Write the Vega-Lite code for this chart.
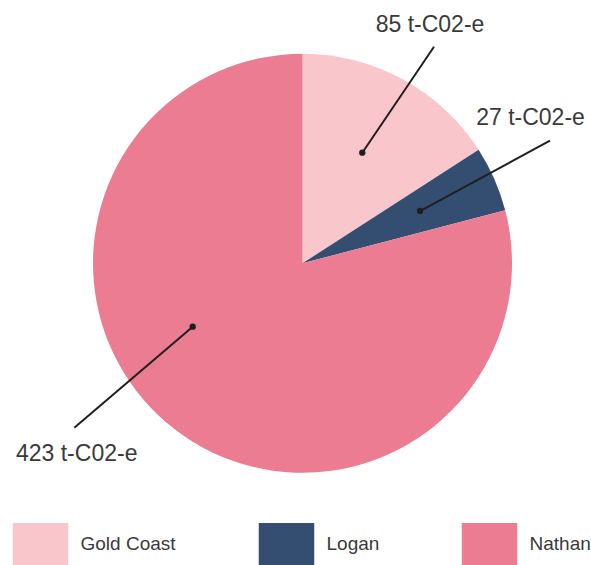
{
  "$schema": "https://vega.github.io/schema/vega-lite/v6.json",
  "width": 591,
  "height": 565,
  "autosize": {"type": "none"},
  "padding": 0,
  "background": "#ffffff",
  "config": {
    "view": {"stroke": null},
    "font": "Liberation Sans"
  },
  "datasets": {
    "campuses": [
      {"campus": "Gold Coast", "tco2e": 85},
      {"campus": "Logan", "tco2e": 27},
      {"campus": "Nathan", "tco2e": 423}
    ],
    "callouts": [
      {"campus": "Gold Coast", "tco2e": 85, "label": "85 t-C02-e", "dotX": 0.2854, "dotY": 0.5279, "endX": 0.6277, "endY": 1.0339, "textX": 0.6086, "textY": 1.1026},
      {"campus": "Logan", "tco2e": 27, "label": "27 t-C02-e", "dotX": 0.5609, "dotY": 0.2496, "endX": 1.1814, "endY": 0.5852, "textX": 1.0883, "textY": 0.6601},
      {"campus": "Nathan", "tco2e": 423, "label": "423 t-C02-e", "dotX": -0.5241, "dotY": -0.3026, "endX": -1.0893, "endY": -0.7847, "textX": -1.0778, "textY": -0.9422}
    ]
  },
  "layer": [
    {
      "data": {"name": "campuses"},
      "mark": {"type": "arc", "outerRadius": 209.5},
      "encoding": {
        "x": {"datum": 0, "type": "quantitative", "scale": {"domain": [-1.4439, 1.3771], "nice": false, "zero": false}, "axis": null},
        "y": {"datum": 0, "type": "quantitative", "scale": {"domain": [-1.4401, 1.2568], "nice": false, "zero": false}, "axis": null},
        "theta": {"field": "tco2e", "type": "quantitative", "stack": true},
        "color": {
          "field": "campus",
          "type": "nominal",
          "scale": {"domain": ["Gold Coast", "Logan", "Nathan"], "range": ["#F9C6CB", "#344E72", "#EC7C92"]},
          "legend": {
            "orient": "none",
            "legendX": 19.5,
            "legendY": 523,
            "direction": "horizontal",
            "title": null,
            "padding": 0,
            "symbolType": "M-1.3214,-1H1.3214V1H-1.3214Z",
            "symbolSize": 1764,
            "symbolStrokeWidth": 0,
            "symbolOpacity": 1,
            "labelFont": "Liberation Sans",
            "labelFontSize": 19,
            "labelColor": "#3a3a3a",
            "labelOffset": 19,
            "columnPadding": 82
          }
        },
        "order": {"field": "campus", "sort": "ascending"}
      }
    },
    {
      "data": {"name": "callouts"},
      "mark": {"type": "rule", "color": "#1f1f1f", "strokeWidth": 2},
      "encoding": {
        "x": {"field": "dotX", "type": "quantitative", "scale": {"domain": [-1.4439, 1.3771], "nice": false, "zero": false}, "axis": null},
        "y": {"field": "dotY", "type": "quantitative", "scale": {"domain": [-1.4401, 1.2568], "nice": false, "zero": false}, "axis": null},
        "x2": {"field": "endX"},
        "y2": {"field": "endY"}
      }
    },
    {
      "data": {"name": "callouts"},
      "mark": {"type": "point", "filled": true, "color": "#1f1f1f", "opacity": 1, "size": 40},
      "encoding": {
        "x": {"field": "dotX", "type": "quantitative", "axis": null},
        "y": {"field": "dotY", "type": "quantitative", "axis": null}
      }
    },
    {
      "data": {"name": "callouts"},
      "mark": {"type": "text", "align": "center", "baseline": "alphabetic", "font": "Liberation Sans", "fontSize": 23, "color": "#3a3a3a"},
      "encoding": {
        "x": {"field": "textX", "type": "quantitative", "axis": null},
        "y": {"field": "textY", "type": "quantitative", "axis": null},
        "text": {"field": "label"}
      }
    }
  ]
}
